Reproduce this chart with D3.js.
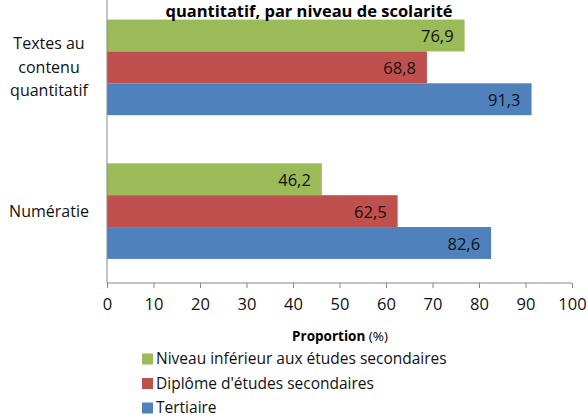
<!DOCTYPE html>
<html><head><meta charset="utf-8">
<script src="https://cdn.jsdelivr.net/npm/d3@7"></script>
<style>body{margin:0;background:#fff}svg{display:block}text{font-family:"Open Sans",sans-serif}</style>
</head><body><svg id="c" width="588" height="419"></svg>
<script>
const categories = ["Textes au contenu quantitatif", "Numératie"];
const categoryLines = [["Textes au", "contenu", "quantitatif"], ["Numératie"]];
const seriesNames = ["Niveau inférieur aux études secondaires", "Diplôme d'études secondaires", "Tertiaire"];
const seriesColors = ["#9BBB59", "#C0504D", "#4F81BD"];
const lowerSecondary = [76.9, 46.2];
const secondaryDiploma = [68.8, 62.5];
const tertiary = [91.3, 82.6];
const xTicks = [0,10,20,30,40,50,60,70,80,90,100];
const titleText = "quantitatif, par niveau de scolarité";
const series = [lowerSecondary, secondaryDiploma, tertiary];

(function(){
const svg = d3.select("#c");
const pLeft = 107, pRight = 572, pTop = -4.5, pBottom = 283;
const x = d3.scaleLinear().domain([0,100]).range([pLeft,pRight]);
const y = d3.scaleBand().domain(categories).range([pTop,pBottom]).paddingInner(0.335).paddingOuter(0.1675);
const y1 = d3.scaleBand().domain(seriesNames).range([0,y.bandwidth()]);

const g = svg.append("g");
categories.forEach((c,ci)=>{
  series.forEach((s,si)=>{
    const yy = y(c)+y1(seriesNames[si]);
    g.append("rect").attr("x",x(0)).attr("y",yy).attr("width",x(s[ci])-x(0)).attr("height",y1.bandwidth()).attr("fill",seriesColors[si]);
    g.append("text").attr("x",x(s[ci])-11).attr("y",yy+y1.bandwidth()/2+1).attr("dy","0.35em")
      .attr("text-anchor","end").attr("font-size",16.5).attr("fill","#111").text(d3.format(".1f")(s[ci]).replace(".",","));
  });
  const lines = categoryLines[ci];
  const cy = y(c)+y.bandwidth()/2;
  lines.forEach((l,li)=>{
    svg.append("text").attr("x",49).attr("y",cy+(li-(lines.length-1)/2)*23.5).attr("dy","0.35em")
      .attr("text-anchor","middle").attr("font-size",16).attr("fill","#111").text(l);
  });
});

svg.append("line").attr("x1",pLeft).attr("x2",pLeft).attr("y1",0).attr("y2",pBottom).attr("stroke","#888").attr("stroke-width",1);
const ax = svg.append("g").attr("transform",`translate(0,${pBottom})`)
  .call(d3.axisBottom(x).tickValues(xTicks).tickSize(5).tickPadding(10).tickFormat(d3.format("d")));
ax.select(".domain").attr("stroke","#888").attr("d",`M${pLeft},0H${pRight}`);
ax.selectAll(".tick line").attr("stroke","#888");
ax.selectAll(".tick text").attr("font-size",16.5).attr("fill","#111").attr("font-family","Open Sans");

const xt = svg.append("text").attr("x",340).attr("y",336).attr("dy","0.35em").attr("text-anchor","middle").attr("font-size",13.5).attr("fill","#000");
xt.append("tspan").attr("font-weight","bold").text("Proportion");
xt.append("tspan").text(" (%)");

svg.append("text").attr("x",309).attr("y",17).attr("text-anchor","middle").attr("font-size",16.5).attr("font-weight","bold").attr("fill","#000").text(titleText);

const lg = svg.append("g");
seriesNames.forEach((n,i)=>{
  const cy = 359 + i*24.5;
  lg.append("rect").attr("x",142).attr("y",cy-5.5).attr("width",11).attr("height",11).attr("fill",seriesColors[i]);
  lg.append("text").attr("x",156).attr("y",cy).attr("dy","0.35em").attr("font-size",15.5).attr("fill","#111").text(n);
});
})();
</script></body></html>
